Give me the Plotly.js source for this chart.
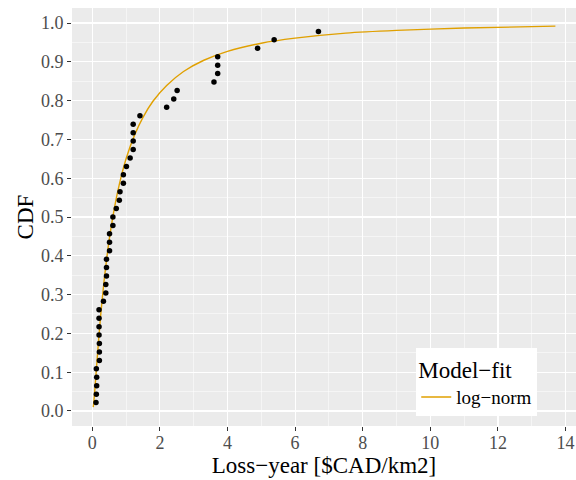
<!DOCTYPE html>
<html>
<head>
<meta charset="utf-8">
<script src="https://cdn.plot.ly/plotly-3.0.1.min.js"></script>
<style>html,body{margin:0;padding:0;background:#fff;}#chart{width:576px;height:480px;}</style>
</head>
<body>
<div id="chart"></div>
<script>
// Observed points (empirical CDF)
var obsX = [0.11,0.12,0.13,0.13,0.12, 0.21,0.21,0.21,0.20,0.20,0.20,0.20,
            0.33,0.40,0.40,0.42,0.42,0.42, 0.51,0.51,0.51, 0.61,0.61, 0.71,0.80,0.82,
            0.92,0.92,1.01,1.12, 1.21,1.21,1.21,1.21, 1.41, 2.20,2.41,2.51,
            3.60,3.71,3.71,3.71, 4.89,5.38,6.69];
var obsY = [0.022,0.043,0.065,0.087,0.109,0.130,0.152,0.174,0.196,0.217,0.239,0.261,
            0.283,0.304,0.326,0.348,0.370,0.391,0.413,0.435,0.457,0.478,0.500,0.522,
            0.543,0.565,0.587,0.609,0.630,0.652,0.674,0.696,0.717,0.739,0.761,0.783,
            0.804,0.826,0.848,0.870,0.891,0.913,0.935,0.957,0.978];
// Fitted log-normal curve
var fitX = [0.03,0.05,0.08,0.12,0.18,0.25,0.35,0.5,0.65,0.8,1.0,1.25,1.5,1.8,2.2,2.7,3.3,4.0,5.0,6.0,7.5,9.0,11.0,13.7];
var fitY = [0.010,0.027,0.060,0.106,0.175,0.248,0.336,0.441,0.521,0.584,0.650,0.711,0.757,0.799,0.839,0.875,0.904,0.927,0.948,0.961,0.974,0.981,0.987,0.992];
var xTicks = [0,2,4,6,8,10,12,14];
var yTicks = [0,0.1,0.2,0.3,0.4,0.5,0.6,0.7,0.8,0.9,1.0];
var yTickText = ['0.0','0.1','0.2','0.3','0.4','0.5','0.6','0.7','0.8','0.9','1.0'];
var seriesName = 'log\u2212norm';

var serif = 'Liberation Serif';

var traces = [
  {x: fitX, y: fitY, type: 'scatter', mode: 'lines', name: seriesName,
   line: {color: '#E0A000', width: 1.4, shape: 'spline', smoothing: 0.6}, showlegend: true},
  {x: obsX, y: obsY, type: 'scatter', mode: 'markers', name: 'obs',
   marker: {color: '#000', size: 5.5}, showlegend: false}
];

var layout = {
  width: 576, height: 480,
  margin: {l: 72, r: 0, t: 8, b: 54, pad: 0},
  paper_bgcolor: '#fff', plot_bgcolor: '#EBEBEB',
  font: {family: serif, color: '#000'},
  xaxis: {
    range: [-0.6, 14.31], tickvals: xTicks, ticktext: xTicks.map(String),
    showgrid: true, gridcolor: '#fff', gridwidth: 1.2, zeroline: false,
    ticks: 'outside', ticklen: 4, tickcolor: '#333', tickwidth: 1,
    ticklabelstandoff: -4,
    tickfont: {family: serif, size: 18, color: '#4D4D4D'},
    minor: {dtick: 1, tick0: 0, showgrid: true, gridcolor: '#fff', gridwidth: 0.5, ticks: ''},
    showline: false, automargin: false,
    title: {text: 'Loss\u2212year [$CAD/km2]', font: {family: serif, size: 23, color: '#000'}, standoff: 0}
  },
  yaxis: {
    range: [-0.0387, 1.0387], tickvals: yTicks, ticktext: yTickText,
    showgrid: true, gridcolor: '#fff', gridwidth: 1.2, zeroline: false,
    ticks: 'outside', ticklen: 4, tickcolor: '#333', tickwidth: 1,
    tickfont: {family: serif, size: 18, color: '#4D4D4D'},
    minor: {dtick: 0.05, tick0: 0, showgrid: true, gridcolor: '#fff', gridwidth: 0.5, ticks: ''},
    showline: false, automargin: false,
    title: {text: 'CDF', font: {family: serif, size: 23, color: '#000'}, standoff: 0}
  },
  legend: {
    x: 0.683, y: 0.186, xanchor: 'left', yanchor: 'top',
    bgcolor: '#fff', borderwidth: 0,
    title: {text: 'Model\u2212fit ', font: {family: serif, size: 23, color: '#000'}},
    font: {family: serif, size: 19, color: '#000'},
    itemwidth: 30
  },
  showlegend: true
};

Plotly.newPlot('chart', traces, layout, {displayModeBar: false, staticPlot: true});
</script>
</body>
</html>
